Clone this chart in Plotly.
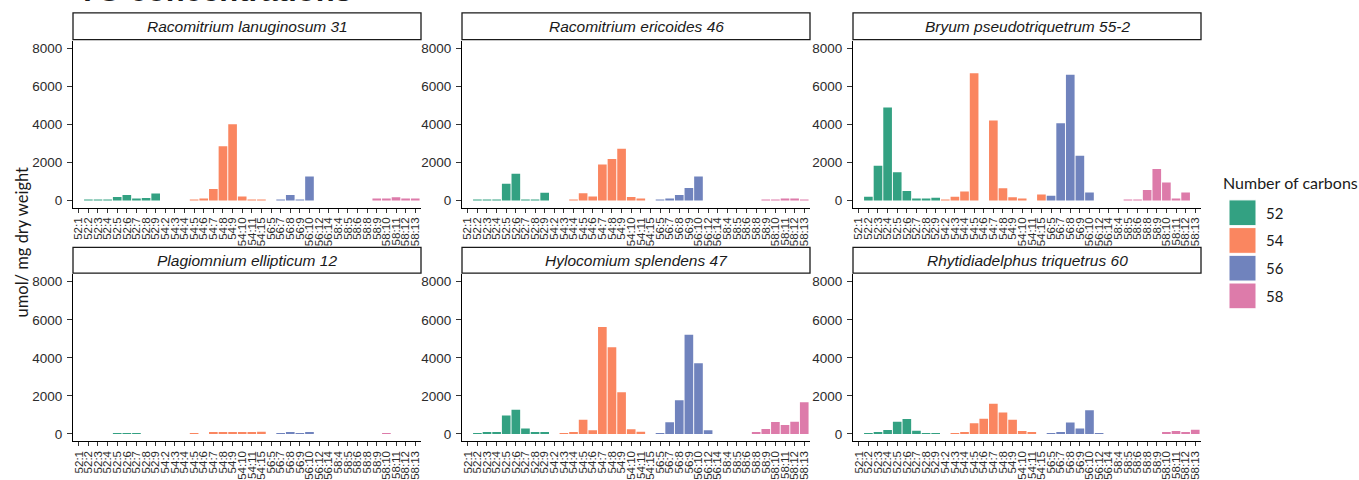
import plotly.graph_objects as go

# ---------------- data ----------------
categories = ["52:1", "52:2", "52:3", "52:4", "52:5", "52:6", "52:7", "52:8", "52:9",
              "54:2", "54:3", "54:4", "54:5", "54:6", "54:7", "54:8", "54:9", "54:10", "54:11", "54:15",
              "56:5", "56:7", "56:8", "56:9", "56:10", "56:12", "56:14",
              "58:4", "58:5", "58:6", "58:8", "58:9", "58:10", "58:11", "58:12", "58:13"]

carbon_groups = ["52", "54", "56", "58"]
group_colors = ["#33A182", "#FA8660", "#7083BD", "#DD7BAA"]

species = ["Racomitrium lanuginosum 31", "Racomitrium ericoides 46", "Bryum pseudotriquetrum 55-2",
           "Plagiomnium ellipticum 12", "Hylocomium splendens 47", "Rhytidiadelphus triquetrus 60"]

N = None
racomitrium_lanuginosum_31 = [N, 20, 20, 20, 180, 280, 60, 130, 360,
                              N, N, N, 30, 80, 600, 2850, 4000, 200, 30, 20,
                              N, 30, 280, 40, 1250, N, N,
                              N, N, N, N, 60, 100, 160, 70, 50]
racomitrium_ericoides_46 = [N, 15, 15, 15, 880, 1400, 20, 20, 400,
                            N, N, 20, 380, 200, 1880, 2180, 2720, 180, 50, N,
                            20, 100, 280, 650, 1260, N, N,
                            N, N, N, N, 20, 30, 50, 100, 40]
bryum_pseudotriquetrum_55_2 = [N, 190, 1820, 4880, 1475, 490, 100, 100, 140,
                               15, 190, 470, 6680, N, 4200, 640, 160, 70, N, 310,
                               240, 4060, 6610, 2340, 420, N, N,
                               N, 15, 15, 540, 1650, 940, 70, 420, N]
plagiomnium_ellipticum_12 = [N, N, N, N, 15, 20, 20, N, N,
                             N, N, N, 20, N, 60, 80, 80, 60, 60, 120,
                             N, 30, 50, 30, 80, N, N,
                             N, N, N, N, N, 20, N, N, N]
hylocomium_splendens_47 = [N, 10, 90, 90, 970, 1270, 280, 100, 100,
                           N, 10, 60, 750, 190, 5625, 4550, 2190, 240, 120, N,
                           10, 610, 1770, 5210, 3720, 190, N,
                           N, N, N, 90, 260, 625, 470, 640, 1670]
rhytidiadelphus_triquetrus_60 = [N, 20, 90, 200, 640, 780, 170, 40, 40,
                                 N, 20, 50, 560, 800, 1580, 1130, 750, 150, 90, N,
                                 10, 70, 600, 290, 1250, 20, N,
                                 N, N, N, N, N, 60, 150, 70, 220]

panel_values = [racomitrium_lanuginosum_31, racomitrium_ericoides_46, bryum_pseudotriquetrum_55_2,
                plagiomnium_ellipticum_12, hylocomium_splendens_47, rhytidiadelphus_triquetrus_60]

y_ticks = [0, 2000, 4000, 6000, 8000]

# ---------------- layout geometry (pixels) ----------------
W, H = 1359, 480
col_px = [(73, 421), (462, 810), (853, 1201)]
row_px = [(41, 210), (277, 446)]          # plot area top/bottom
strip_px = [(13, 40), (250, 276)]          # strip top/bottom


def px_x(p):
    return p / W


def px_y(p):
    return 1 - p / H


fig = go.Figure()
AX_FONT = "Liberation Sans, Arial, sans-serif"
LEG_FONT = "Lato, Open Sans, sans-serif"

layout = dict(
    width=W, height=H,
    margin=dict(l=0, r=0, t=0, b=0),
    paper_bgcolor="white", plot_bgcolor="white",
    barmode="relative", bargap=0.1,
    showlegend=False,
    shapes=[], annotations=[],
)

for k, (name, vals) in enumerate(zip(species, panel_values)):
    r, c = divmod(k, 3)
    sfx = "" if k == 0 else str(k + 1)
    xa, ya = "x" + sfx, "y" + sfx
    for g, col in zip(carbon_groups, group_colors):
        xs = [cat for cat, v in zip(categories, vals) if cat.startswith(g) and v is not None]
        ys = [v for cat, v in zip(categories, vals) if cat.startswith(g) and v is not None]
        fig.add_trace(go.Bar(x=xs, y=ys, name=g, marker=dict(color=col, line=dict(width=0)),
                             xaxis=xa, yaxis=ya, showlegend=False))
    x0, x1 = col_px[c]
    t, b = row_px[r]
    layout["xaxis" + sfx] = dict(
        domain=[px_x(x0), px_x(x1)], anchor=ya, type="category",
        categoryorder="array", categoryarray=categories, tickvals=categories,
        range=[-0.6, len(categories) - 0.4],
        showline=True, linecolor="black", linewidth=1.1, ticks="outside", ticklen=4,
        tickcolor="#333333", tickwidth=1, tickangle=-90, showgrid=False, zeroline=False,
        tickfont=dict(family=AX_FONT, size=11.5, color="#2b2b2b"), fixedrange=True)
    layout["yaxis" + sfx] = dict(
        domain=[px_y(b), px_y(t)], anchor=xa, range=[-390, 8400],
        tickvals=y_ticks, showline=True, linecolor="black", linewidth=1.1,
        ticks="outside", ticklen=5, tickcolor="#333333", tickwidth=1,
        ticklabelstandoff=2,
        showgrid=False, zeroline=False,
        tickfont=dict(family=AX_FONT, size=13.5, color="#2b2b2b"), fixedrange=True)
    st, sb = strip_px[r]
    layout["shapes"].append(dict(type="rect", xref="paper", yref="paper",
                                 x0=px_x(x0), x1=px_x(x1), y0=px_y(sb), y1=px_y(st),
                                 line=dict(color="#1a1a1a", width=1.3), fillcolor="white"))
    layout["annotations"].append(dict(text="<i>" + name + "</i>", xref="paper", yref="paper",
                                      x=px_x((x0 + x1) / 2), y=px_y((st + sb) / 2),
                                      showarrow=False, xanchor="center", yanchor="middle",
                                      font=dict(family=AX_FONT, size=15.5, color="#1a1a1a")))

# y axis title
layout["annotations"].append(dict(text="umol/ mg dry weight", xref="paper", yref="paper",
                                  x=px_x(22), y=px_y(245), textangle=-90, showarrow=False,
                                  xanchor="center", yanchor="middle",
                                  font=dict(family=LEG_FONT, size=16.5, color="#1a1a1a")))

# partially visible title at the top
layout["annotations"].append(dict(text="<b>TG concentrations</b>", xref="paper", yref="paper",
                                  x=px_x(76), y=px_y(10), showarrow=False,
                                  xanchor="left", yanchor="bottom",
                                  font=dict(family=AX_FONT, size=31, color="#1a1a1a")))

# legend (manual, large keys)
layout["annotations"].append(dict(text="Number of carbons", xref="paper", yref="paper",
                                  x=px_x(1221), y=px_y(184), showarrow=False,
                                  xanchor="left", yanchor="middle",
                                  font=dict(family=LEG_FONT, size=16, color="#1a1a1a")))
for i, (g, col) in enumerate(zip(carbon_groups, group_colors)):
    top = 202 + 28 * i
    layout["shapes"].append(dict(type="rect", xref="paper", yref="paper",
                                 x0=px_x(1229), x1=px_x(1256), y0=px_y(top + 26), y1=px_y(top),
                                 line=dict(color="white", width=1), fillcolor=col))
    layout["annotations"].append(dict(text=g, xref="paper", yref="paper",
                                      x=px_x(1264), y=px_y(top + 13), showarrow=False,
                                      xanchor="left", yanchor="middle",
                                      font=dict(family=LEG_FONT, size=15, color="#1a1a1a")))

fig.update_layout(**layout)
fig.write_html("out.html", config={"displayModeBar": False},
               post_script="document.body.style.margin='0px';document.body.style.overflow='hidden';")
